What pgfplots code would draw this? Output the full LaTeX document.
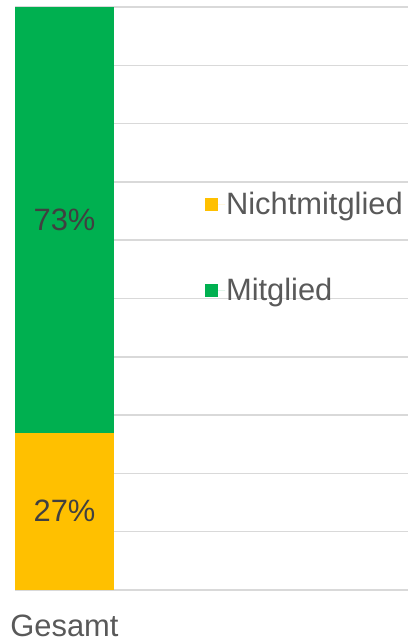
\documentclass[border=0pt]{standalone}
\usepackage{fontspec}
\setmainfont{Liberation Sans}
\usepackage{pgfplots}
\pgfplotsset{compat=1.18}
\definecolor{mgreen}{HTML}{00B050}
\definecolor{nyellow}{HTML}{FFC000}
\definecolor{txtgray}{HTML}{595959}
\definecolor{lblgray}{HTML}{404040}
\definecolor{gridgray}{HTML}{D9D9D9}
\begin{document}
\begin{tikzpicture}[x=1bp,y=1bp]
\path[use as bounding box] (0,0) rectangle (413,643);
\begin{axis}[
  at={(15bp,53bp)}, anchor=south west,
  scale only axis, width=393bp, height=583bp,
  ybar stacked, bar width=1,
  xmin=-0.5, xmax=3.47, ymin=0, ymax=100,
  xtick={0}, xticklabels={Gesamt},
  ytick={0,10,...,100}, yticklabels={},
  major tick length=0pt,
  axis line style={draw=none},
  ymajorgrids, grid style={gridgray, line width=1.5bp},
  xticklabel style={font=\fontsize{31}{36}\selectfont, text=txtgray, anchor=base, yshift=-47bp},
  legend cell align=left,
  legend style={at={(0.483,0.684)}, anchor=north west, draw=none, fill=none,
    font=\fontsize{31}{36}\selectfont, text=txtgray, row sep=60bp, inner sep=0pt,
    nodes={inner sep=1bp}},
  legend image code/.code={\fill[#1, draw=none] (0bp,-6.5bp) rectangle (13bp,6.5bp); \path (0,0) -- (20bp,0);},
]
\addplot[fill=nyellow, draw=none] coordinates {(0,27)};
\addlegendentry{Nichtmitglied}
\addplot[fill=mgreen, draw=none] coordinates {(0,73)};
\addlegendentry{Mitglied}
\coordinate (lowlbl) at (axis cs:0,13.5);
\coordinate (uplbl) at (axis cs:0,63.5);
\end{axis}
\node[font=\fontsize{31}{36}\selectfont, text=lblgray] at (lowlbl) {27\%};
\node[font=\fontsize{31}{36}\selectfont, text=lblgray] at (uplbl) {73\%};
\end{tikzpicture}
\end{document}
